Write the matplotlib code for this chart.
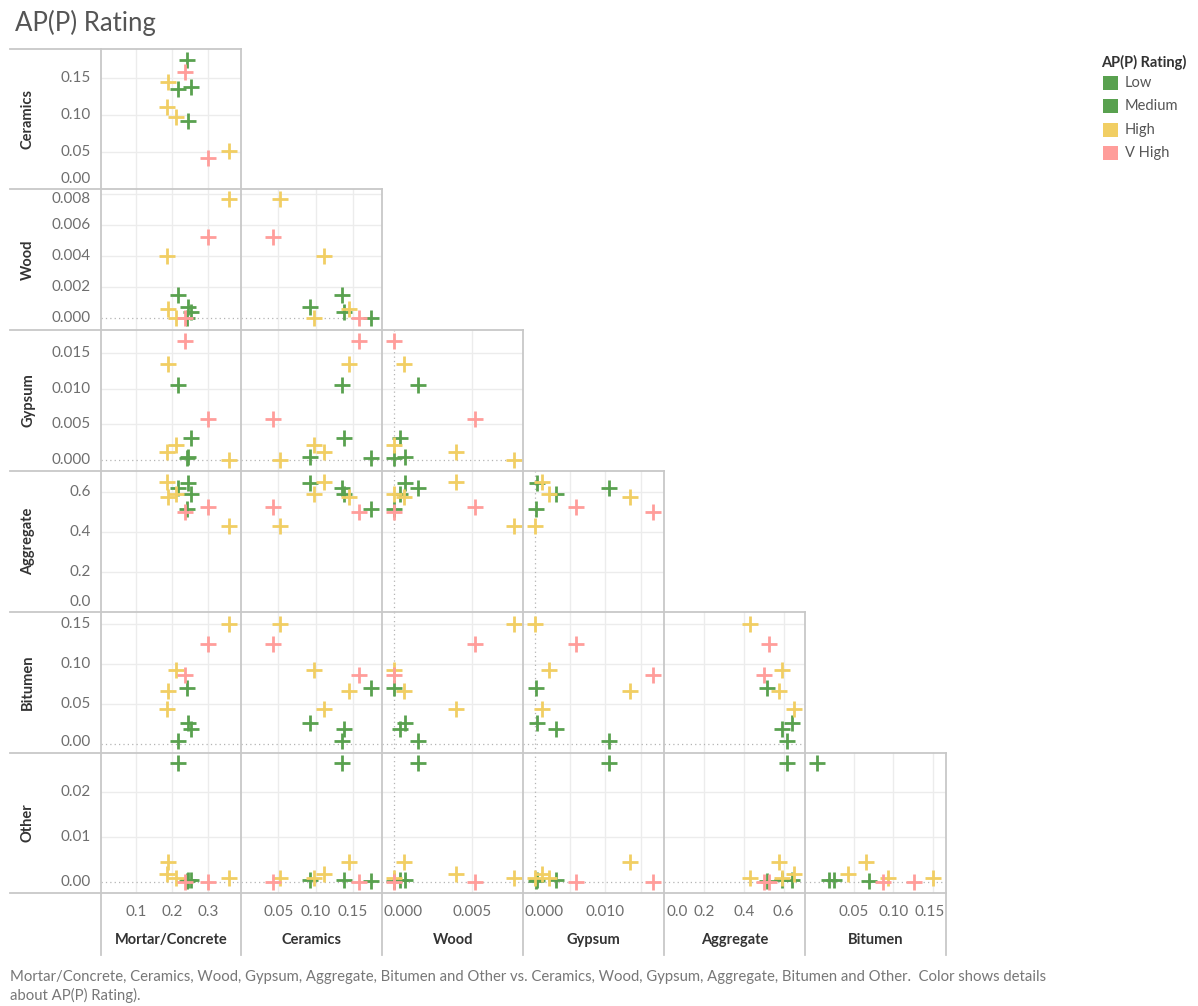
import matplotlib
matplotlib.use("Agg")
import matplotlib.pyplot as plt
from matplotlib.lines import Line2D
from matplotlib.patches import Rectangle

plt.rcParams['font.family'] = ['Lato', 'DejaVu Sans']

# one record per product, values are the material fractions
rating = ['Low', 'V High', 'High', 'Low', 'Medium', 'High', 'High', 'Medium', 'V High', 'High']
mortar = [0.242, 0.237, 0.188, 0.218, 0.254, 0.186, 0.212, 0.245, 0.300, 0.360]
ceramics = [0.175, 0.158, 0.145, 0.136, 0.138, 0.111, 0.098, 0.092, 0.042, 0.052]
wood = [0.0, 0.0, 0.0006, 0.0015, 0.0004, 0.0040, 0.0, 0.0007, 0.0052, 0.0077]
gypsum = [0.0002, 0.0168, 0.0135, 0.0105, 0.0031, 0.0011, 0.0020, 0.0003, 0.0058, 0.0]
aggregate = [0.517, 0.500, 0.577, 0.619, 0.593, 0.653, 0.593, 0.644, 0.526, 0.432]
bitumen = [0.070, 0.087, 0.066, 0.004, 0.019, 0.0435, 0.093, 0.0256, 0.126, 0.150]
other = [0.0002, 0.0, 0.0043, 0.0263, 0.0003, 0.0017, 0.0007, 0.0003, 0.0, 0.0007]

names = ['Mortar/Concrete', 'Ceramics', 'Wood', 'Gypsum', 'Aggregate', 'Bitumen', 'Other']
values = [mortar, ceramics, wood, gypsum, aggregate, bitumen, other]

rating_levels = ['Low', 'Medium', 'High', 'V High']
rating_colors = {'Low': '#59A14F', 'Medium': '#59A14F', 'High': '#F1CE63', 'V High': '#FF9D9A'}

limits = {
    'Mortar/Concrete': (0, 0.394),
    'Ceramics': (0, 0.19),
    'Wood': (-0.00077, 0.0083),
    'Gypsum': (-0.0016, 0.0183),
    'Aggregate': (0, 0.707),
    'Bitumen': (-0.011, 0.166),
    'Other': (-0.0026, 0.0287),
}
row_ticks = {
    'Ceramics': [0, 0.05, 0.10, 0.15],
    'Wood': [0, 0.002, 0.004, 0.006, 0.008],
    'Gypsum': [0, 0.005, 0.010, 0.015],
    'Aggregate': [0, 0.2, 0.4, 0.6],
    'Bitumen': [0, 0.05, 0.10, 0.15],
    'Other': [0, 0.01, 0.02],
}
col_ticks = {
    'Mortar/Concrete': [0.1, 0.2, 0.3],
    'Ceramics': [0.05, 0.10, 0.15],
    'Wood': [0, 0.005],
    'Gypsum': [0, 0.005, 0.010, 0.015],
    'Aggregate': [0, 0.2, 0.4, 0.6],
    'Bitumen': [0.05, 0.10, 0.15],
}
col_labelled = {'Gypsum': [0, 0.010]}
fmt = {'Mortar/Concrete': '%.1f', 'Ceramics': '%.2f', 'Wood': '%.3f', 'Gypsum': '%.3f',
       'Aggregate': '%.1f', 'Bitumen': '%.2f', 'Other': '%.2f'}

W, H = 1198, 1006
fig = plt.figure(figsize=(W / 100, H / 100), dpi=100)

x0, y0, cell_w, cell_h = 100.5, 48.5, 140.9, 140.8
border = '#c8c8c8'
grid_c = '#ececec'
tick_c = '#6e6e6e'
head_c = '#333333'


def fx(px):
    return px / W


def fy(py):
    return 1 - py / H


def hline(y, xa, xb, **kw):
    fig.add_artist(Line2D([fx(xa), fx(xb)], [fy(y), fy(y)], transform=fig.transFigure, **kw))


def vline(x, ya, yb, **kw):
    fig.add_artist(Line2D([fx(x), fx(x)], [fy(ya), fy(yb)], transform=fig.transFigure, **kw))


n_rows = len(names) - 1
for r in range(n_rows):
    yname = names[r + 1]
    ylo, yhi = limits[yname]
    top = y0 + r * cell_h
    for c in range(r + 1):
        xname = names[c]
        xlo, xhi = limits[xname]
        left = x0 + c * cell_w
        ax = fig.add_axes([fx(left), fy(top + cell_h), cell_w / W, cell_h / H])
        ax.set_xlim(xlo, xhi)
        ax.set_ylim(ylo, yhi)
        ax.set_xticks([])
        ax.set_yticks([])
        for s in ax.spines.values():
            s.set_visible(False)
        ax.patch.set_alpha(0)

        for t in row_ticks[yname]:
            if t == 0 and ylo < 0:
                ax.axhline(0, color='#b4b4b4', lw=0.9, ls=(0, (1, 2.5)), zorder=1)
            elif t > ylo:
                ax.axhline(t, color=grid_c, lw=1.0, zorder=0)
        for t in col_ticks[xname]:
            if t == 0 and xlo < 0:
                ax.axvline(0, color='#b4b4b4', lw=0.9, ls=(0, (1, 2.5)), zorder=1)
            elif t > xlo:
                ax.axvline(t, color=grid_c, lw=1.0, zorder=0)

        xs = values[c]
        ys = values[r + 1]
        for lvl in rating_levels:
            idx = [i for i, v in enumerate(rating) if v == lvl]
            ax.plot([xs[i] for i in idx], [ys[i] for i in idx], '+', ms=11, mew=2.0,
                    color=rating_colors[lvl], zorder=3)

    # row header and y tick labels
    fig.text(fx(28), fy(top + cell_h / 2), yname, rotation=90, ha='center', va='center',
             fontsize=10.5, fontweight='bold', color=head_c)
    for t in row_ticks[yname]:
        py = top + cell_h * (yhi - t) / (yhi - ylo)
        py = min(max(py, top + 10), top + cell_h - 10)
        fig.text(fx(91), fy(py), fmt[yname] % t, ha='right', va='center',
                 fontsize=11, color=tick_c)

# column headers and x tick labels
bottom = y0 + n_rows * cell_h
for c in range(n_rows):
    xname = names[c]
    xlo, xhi = limits[xname]
    left = x0 + c * cell_w
    shown = col_labelled.get(xname, col_ticks[xname])
    for t in shown:
        lab = fmt[xname] % t
        hw = 3.9 * len(lab) - 1.5
        px = left + cell_w * (t - xlo) / (xhi - xlo)
        px = min(max(px, left + hw + 2.5), left + cell_w - hw - 2.5)
        fig.text(fx(px), fy(912), lab, ha='center', va='center', fontsize=11, color=tick_c)
    fig.text(fx(left + cell_w / 2), fy(940), xname, ha='center', va='center',
             fontsize=10.5, fontweight='bold', color=head_c)

# panel borders
for r in range(n_rows):
    hline(y0 + r * cell_h, 10, x0 + (r + 1) * cell_w, color=border, lw=1.3)
hline(bottom, 10, x0 + n_rows * cell_w, color=border, lw=1.3)
for k in range(n_rows + 1):
    vline(x0 + k * cell_w, y0 + max(k - 1, 0) * cell_h, 955, color=border, lw=1.3)

# title
fig.text(fx(15), fy(23), 'AP(P) Rating', ha='left', va='center', fontsize=18.5, color='#555555')

# legend
fig.text(fx(1101), fy(62), 'AP(P) Rating)', ha='left', va='center', fontsize=10.5,
         fontweight='bold', color=head_c)
for i, lvl in enumerate(rating_levels):
    cy = 83 + i * 23.3
    fig.add_artist(Rectangle((fx(1103), fy(cy + 7)), 15 / W, 14 / H, transform=fig.transFigure,
                             facecolor=rating_colors[lvl], edgecolor='none'))
    fig.text(fx(1125), fy(cy), lvl, ha='left', va='center', fontsize=10.5, color='#555555')

# caption
fig.text(fx(10), fy(977), 'Mortar/Concrete, Ceramics, Wood, Gypsum, Aggregate, Bitumen and Other vs. '
         'Ceramics, Wood, Gypsum, Aggregate, Bitumen and Other.  Color shows details',
         ha='left', va='center', fontsize=10.7, color='#777777')
fig.text(fx(10), fy(995), 'about AP(P) Rating).', ha='left', va='center', fontsize=10.7, color='#777777')

fig.savefig('out.png', dpi=100)
